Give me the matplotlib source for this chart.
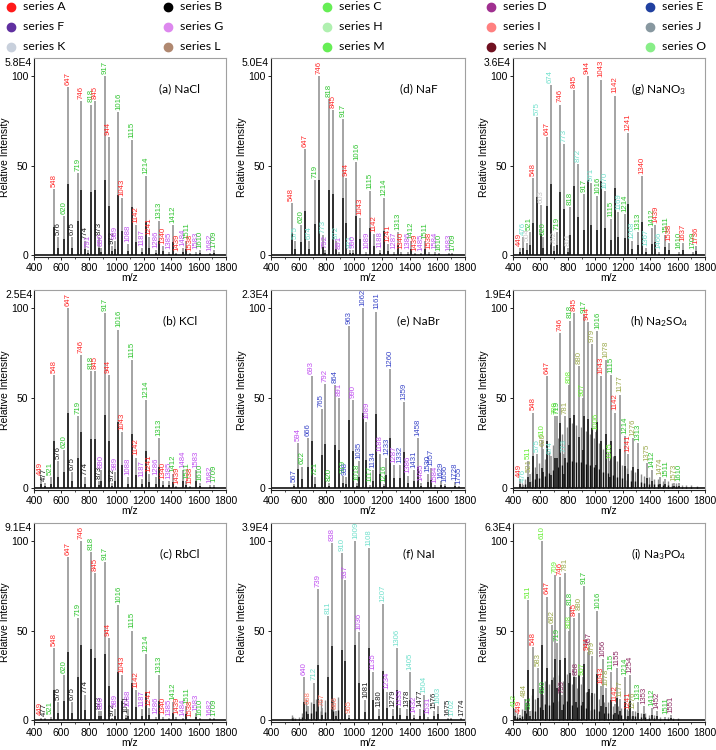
import matplotlib.pyplot as plt
import matplotlib.transforms as mtransforms
from matplotlib.ticker import MultipleLocator

plt.rcParams['font.family'] = ['Liberation Sans', 'DejaVu Sans']
plt.rcParams['mathtext.default'] = 'regular'

# one letter per ion series -> label colour
label_colors = {
    'r': '#ff2a2a', 'k': '#1a1a1a', 'g': '#2ec42e', 'p': '#c050f0',
    'c': '#70e0cc', 'w': '#c8c8c8', 'b': '#3a46c8', 'o': '#9aa84a',
    'l': '#66ee33', 's': '#ff7a6a', 'd': '#8a2a60',
}

# legend
legend_names = ['series A', 'series B', 'series C', 'series D', 'series E',
                'series F', 'series G', 'series H', 'series I', 'series J',
                'series K', 'series L', 'series M', 'series N', 'series O']
legend_colors = ['#ff1a1a', '#000000', '#66ee55', '#a03090', '#2040a0',
                 '#6030a0', '#dd88ee', '#b0f0b0', '#ff8080', '#8898a0',
                 '#c8d0dc', '#b08870', '#66ee55', '#701020', '#88ee88']

# (a) NaCl
nacl_mz = [548, 576, 620, 647, 675, 719, 746, 774, 791, 818, 845, 873, 890, 917, 944, 972, 989,
           1016, 1043, 1088, 1115, 1142, 1187, 1214, 1241, 1286, 1313, 1340, 1385, 1412, 1439,
           1484, 1511, 1538, 1583, 1610, 1682, 1709]
nacl_int = [37, 10, 22, 94, 10, 46, 86, 8, 3, 84, 86, 10, 4, 100, 66, 5, 8, 80, 32, 6, 64, 17, 4,
            44, 10, 3, 19, 5, 2, 17, 1, 4, 8, 1, 2, 3, 1, 3]
nacl_col = "rkg" "rkg" "rkpg" "rkpg" "rkpg" + "rpg" * 6 + "pg"

# (b) KCl
kcl_mz = [449, 477, 521, 548, 576, 620, 647, 675, 719, 746, 774, 818, 845, 873, 890, 917, 944, 972,
          989, 1016, 1043, 1088, 1115, 1142, 1187, 1214, 1241, 1286, 1313, 1340, 1385, 1412, 1439,
          1484, 1511, 1538, 1583, 1610, 1682, 1709]
kcl_int = [6, 3, 6, 63, 15, 21, 100, 9, 40, 74, 6, 65, 65, 4, 10, 97, 63, 3, 9, 88, 31, 6, 71, 17,
           5, 49, 8, 6, 28, 4, 4, 8, 1, 10, 4, 1, 10, 3, 1.5, 2]
kcl_col = "rkg" * 4 + "rkpg" * 2 + "rpg" * 6 + "pg"

# (c) RbCl
rbcl_mz = [449, 477, 521, 548, 576, 620, 647, 675, 719, 746, 774, 818, 845, 873, 890, 917, 944, 972,
           989, 1016, 1043, 1071, 1088, 1115, 1142, 1187, 1214, 1241, 1286, 1313, 1340, 1385, 1412,
           1439, 1484, 1511, 1538, 1583, 1610, 1682, 1709]
rbcl_int = [1.5, 1, 2, 40, 10, 25, 91, 10, 57, 100, 14, 94, 82, 5, 5, 88, 46, 1, 6, 64, 25, 3, 6,
            50, 17, 6, 37, 7, 2, 25, 2, 1, 10, 2, 1, 8, 0.5, 4, 1, 1, 1]
rbcl_col = "rkg" * 4 + "rkpg" * 3 + "rpg" * 5 + "pg"

# (d) NaF
naf_mz = [548, 575, 620, 647, 674, 719, 746, 773, 792, 818, 845, 872, 891, 917, 944, 971, 990, 1016,
          1043, 1089, 1115, 1142, 1188, 1214, 1241, 1287, 1313, 1340, 1386, 1412, 1439, 1485, 1511,
          1538, 1584, 1610, 1683, 1709]
naf_int = [29, 8, 17, 59, 8, 42, 100, 11, 3, 87, 81, 8, 2, 76, 43, 3, 3, 52, 21, 2, 36, 12, 3, 32,
           6, 2, 13, 2, 2, 8, 1, 1, 8, 2, 2, 1, 1, 1]
naf_col = "rcg" "rcg" "rcpg" "rcpg" "rcpg" + "rpg" * 6 + "pg"

# (e) NaBr
nabr_mz = [567, 594, 622, 666, 693, 721, 765, 792, 820, 864, 891, 919, 938, 963, 990, 1018, 1035,
           1062, 1089, 1117, 1134, 1161, 1188, 1216, 1233, 1260, 1287, 1332, 1359, 1386, 1431, 1458,
           1485, 1530, 1557, 1584, 1629, 1656, 1728, 1755]
nabr_int = [2.5, 25, 12, 28, 62, 6, 44, 58, 3, 57, 50, 7, 6, 90, 49, 3, 15, 100, 37, 2, 10, 98, 19,
            2.5, 17, 66, 13, 13, 48, 7, 10, 28, 3, 8, 11, 1.5, 4, 2.5, 3.5, 1]
nabr_col = "bpg" * 4 + "bbpg" * 3 + "bbp" * 4 + "bbbb"

# (f) NaI
nai_mz = [640, 668, 712, 739, 767, 811, 838, 866, 910, 937, 965, 1009, 1036, 1081, 1108, 1135, 1180,
          1207, 1234, 1279, 1306, 1333, 1378, 1405, 1432, 1477, 1504, 1531, 1576, 1603, 1675, 1702,
          1774]
nai_int = [24, 8, 21, 73, 7, 58, 99, 5, 93, 78, 3, 100, 49, 11, 96, 27, 6, 65, 16, 6, 40, 7, 6, 27,
           3, 6, 14, 2, 5, 8, 1, 1, 1]
nai_col = "psc" * 4 + "pkc" * 6 + "kck"
nai_bg_mz = [548, 560, 575, 600, 622, 655, 690, 725, 760, 790, 850, 885]
nai_bg_int = [3, 2, 1.5, 2, 4, 12, 10, 12, 12, 11, 12, 13]

# (g) NaNO3
nano3_mz = [449, 476, 504, 521, 548, 575, 603, 620, 647, 674, 702, 719, 746, 773, 801, 818, 845,
            872, 917, 944, 971, 1016, 1043, 1070, 1115, 1142, 1169, 1214, 1241, 1268, 1313, 1340,
            1367, 1412, 1439, 1466, 1511, 1538, 1610, 1637, 1709, 1736]
nano3_int = [4, 10, 7, 13, 43, 77, 28, 10, 66, 95, 5, 13, 84, 62, 4, 27, 92, 51, 34, 100, 40, 33,
             98, 36, 20, 89, 24, 23, 68, 8, 13, 44, 4, 15, 17, 2, 11, 7, 2, 7, 2, 5]
nano3_col = "rcwg" * 4 + "rcg" * 7 + "rgrgr"

# (h) Na2SO4
na2so4_mz = [449, 476, 511, 521, 548, 575, 610, 620, 647, 674, 709, 719, 746, 773, 781, 808, 818,
             845, 880, 907, 917, 944, 979, 1006, 1016, 1043, 1078, 1105, 1115, 1142, 1177, 1214,
             1241, 1276, 1313, 1375, 1412, 1474, 1511, 1573, 1610]
na2so4_int = [5, 2, 15, 8, 42, 19, 27, 22, 62, 18, 40, 40, 86, 19, 40, 57, 93, 97, 68, 50, 96, 92,
              80, 31, 87, 62, 71, 15, 63, 42, 52, 29, 19, 28, 25, 14, 10, 6, 5, 3, 3]
na2so4_col = "rclo" * 2 + "rclg" + "rcolg" + "rolg" * 3 + "rog" * 2 + "og" * 3
na2so4_bg_mz = [462, 490, 535, 560, 590, 632, 660, 690, 730, 758, 795, 830, 858, 893, 930, 958,
                992, 1030, 1058, 1092, 1128, 1158, 1192, 1228, 1258, 1292, 1330, 1358, 1392, 1430,
                1458, 1492, 1530, 1558, 1592, 1630, 1660, 1700, 1740]
na2so4_bg_int = [3, 5, 9, 12, 14, 16, 20, 24, 28, 30, 34, 36, 35, 34, 32, 30, 28, 25, 22, 20, 18,
                 15, 13, 11, 10, 9, 8, 7, 6, 5, 5, 4, 4, 3, 3, 2, 2, 1.5, 1]

# (i) Na3PO4
na3po4_mz = [412, 449, 484, 511, 521, 548, 583, 610, 620, 647, 682, 709, 719, 746, 759, 781, 808,
             818, 845, 858, 880, 907, 917, 944, 957, 979, 1016, 1043, 1056, 1078, 1115, 1142, 1155,
             1177, 1214, 1241, 1254, 1276, 1313, 1353, 1412, 1452, 1511, 1551]
na3po4_int = [6, 3, 12, 67, 5, 41, 29, 100, 14, 69, 53, 81, 43, 80, 14, 82, 50, 63, 57, 24, 60,
              24, 75, 38, 41, 36, 61, 19, 34, 18, 27, 9, 29, 12, 24, 5, 25, 5, 10, 8, 7, 5, 2, 3]
na3po4_col = "lro" + "lgro" * 2 + "lgr" + "dolgr" * 2 + "dogr" * 3 + "dog" + "dg" * 2 + "d"
na3po4_bg_mz = [430, 462, 498, 535, 560, 597, 632, 660, 695, 732, 765, 795, 830, 870, 895, 930,
                968, 990, 1030, 1066, 1090, 1128, 1165, 1190, 1228, 1265, 1290, 1330, 1365, 1390,
                1430, 1470, 1530, 1570, 1600]
na3po4_bg_int = [4, 6, 10, 14, 12, 18, 22, 20, 24, 25, 22, 26, 20, 18, 20, 16, 14, 15, 12, 10, 10,
                 8, 8, 7, 6, 5, 5, 4, 4, 3, 3, 2, 2, 1.5, 1]

titles = ['(a) NaCl', '(b) KCl', '(c) RbCl', '(d) NaF', '(e) NaBr', '(f) NaI',
          '(g) NaNO$_3$', '(h) Na$_2$SO$_4$', '(i) Na$_3$PO$_4$']
scales = ['5.8E4', '2.5E4', '9.1E4', '5.0E4', '2.3E4', '3.9E4', '3.6E4', '1.9E4', '6.3E4']

panels = [
    (nacl_mz, nacl_int, nacl_col, [], []),
    (kcl_mz, kcl_int, kcl_col, [], []),
    (rbcl_mz, rbcl_int, rbcl_col, [], []),
    (naf_mz, naf_int, naf_col, [], []),
    (nabr_mz, nabr_int, nabr_col, [], []),
    (nai_mz, nai_int, nai_col, nai_bg_mz, nai_bg_int),
    (nano3_mz, nano3_int, nano3_col, [], []),
    (na2so4_mz, na2so4_int, na2so4_col, na2so4_bg_mz, na2so4_bg_int),
    (na3po4_mz, na3po4_int, na3po4_col, na3po4_bg_mz, na3po4_bg_int),
]

W, H = 716, 750
fig = plt.figure(figsize=(W / 100, H / 100), dpi=100)

# legend strip at the top (pixel coordinates)
lax = fig.add_axes([0, 1 - 55 / H, 1, 55 / H])
lax.set_xlim(0, W)
lax.set_ylim(55, 0)
lax.axis('off')
col_x = [11, 168, 327, 491, 650]
row_y = [7, 27, 47]
for i, (name, c) in enumerate(zip(legend_names, legend_colors)):
    x, y = col_x[i % 5], row_y[i // 5]
    lax.plot(x, y, 'o', ms=6, color=c, mec=c)
    lax.text(x + 12, y, name, fontsize=8.8, family=['Lato', 'DejaVu Sans'], va='center', ha='left')

col_left = [34, 271, 513]
col_width = [192, 194, 192]
row_span = [(58, 257), (290, 490), (523, 722)]
CORE = 0.42  # fraction of each peak drawn darker

for k, (mz, inten, cols, bg_mz, bg_int) in enumerate(panels):
    c, r = k // 3, k % 3
    top, bot = row_span[r]
    ax = fig.add_axes([col_left[c] / W, 1 - bot / H, col_width[c] / W, (bot - top) / H])
    ax.set_xlim(400, 1800)
    ax.set_ylim(-1, 110)

    if bg_mz:
        ax.vlines(bg_mz, 0, bg_int, color='#8c8c8c', lw=1.0)
        ax.vlines(bg_mz, 0, [v * CORE for v in bg_int], color='#111111', lw=1.0)
    ax.vlines(mz, 0, inten, color='#8c8c8c', lw=1.1)
    ax.vlines(mz, 0, [v * CORE for v in inten], color='#111111', lw=1.1)
    ax.axhline(0.3, color='#111111', lw=1.2)

    for m, v, code in zip(mz, inten, cols):
        ax.text(m, v + 1.2, str(m), rotation=90, ha='center', va='bottom',
                fontsize=5.6, color=label_colors[code])

    ax.text(0.76, 0.845, titles[k], transform=ax.transAxes, ha='center', va='center',
            fontsize=8.5, family=['Lato', 'DejaVu Sans'])
    trans = mtransforms.blended_transform_factory(ax.transAxes, ax.transData)
    ax.text(-0.01, 107, scales[k], transform=trans, ha='right', va='center', fontsize=7.5)

    ax.set_xticks(range(400, 1801, 200))
    ax.set_yticks([0, 50, 100])
    ax.xaxis.set_minor_locator(MultipleLocator(100))
    ax.tick_params(axis='both', which='major', labelsize=7.5, length=2.5, width=0.6, pad=1.5)
    ax.tick_params(axis='both', which='minor', length=1.5, width=0.5)
    for side in ['top', 'right']:
        ax.spines[side].set_color('#a0a0a0')
        ax.spines[side].set_linewidth(0.8)
    for side in ['left', 'bottom']:
        ax.spines[side].set_color('#222222')
        ax.spines[side].set_linewidth(0.8)
    ax.set_xlabel('m/z', fontsize=7.5, labelpad=0.5)
    ax.set_ylabel('Relative Intensity', fontsize=7.5, labelpad=0.5)

fig.savefig('out.png', dpi=100)
